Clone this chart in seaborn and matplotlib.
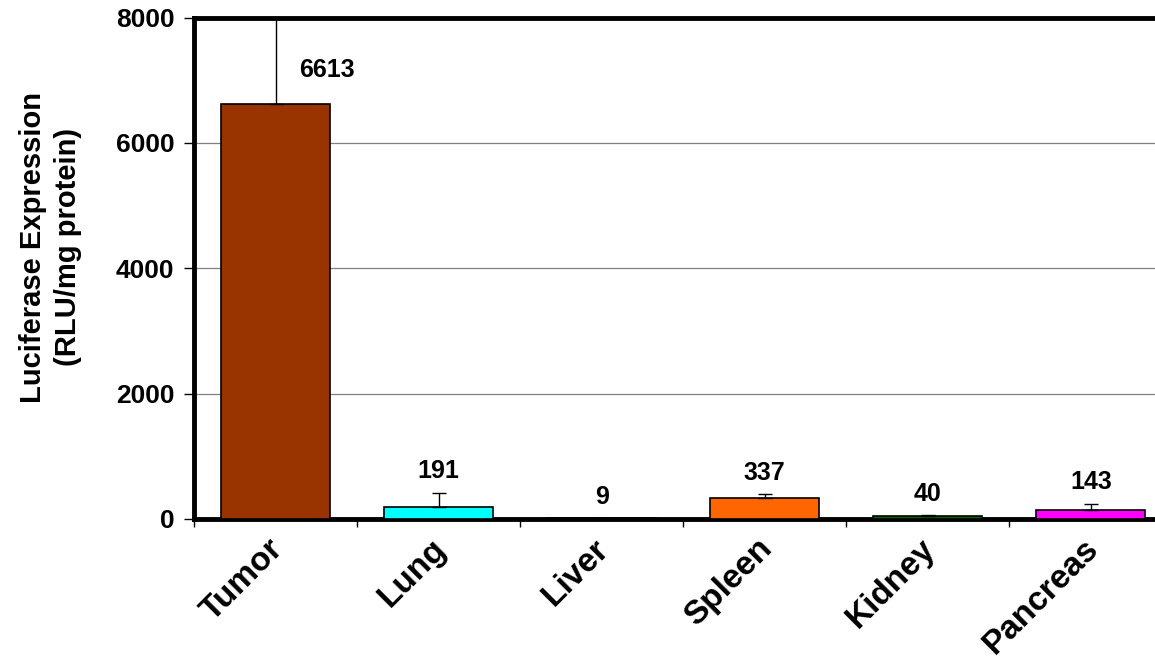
import matplotlib
matplotlib.use("Agg")
import matplotlib.pyplot as plt
import matplotlib.transforms as mtransforms
import seaborn as sns
import pandas as pd

# values
tissues = ["Tumor", "Lung", "Liver", "Spleen", "Kidney", "Pancreas"]
expression = [6613, 191, 9, 337, 40, 143]
error_up = [1500, 224, 0, 55, 20, 95]
bar_colors = ["#993300", "#00FFFF", "#FFFF00", "#FF6600", "#006600", "#FF00FF"]
y_ticks = [0, 2000, 4000, 6000, 8000]

df = pd.DataFrame({"tissue": tissues, "rlu": expression})

sns.set_style("white")
plt.rcParams["font.family"] = ["Liberation Sans", "DejaVu Sans"]
plt.rcParams["font.weight"] = "bold"
plt.rcParams["text.color"] = "black"
plt.rcParams["axes.labelcolor"] = "black"
plt.rcParams["xtick.color"] = "black"
plt.rcParams["ytick.color"] = "black"

fig = plt.figure(figsize=(11.55, 6.63), dpi=100)
ax = fig.add_axes([0.168, 0.2172, 0.847, 0.7564])

sns.barplot(data=df, x="tissue", y="rlu", hue="tissue", palette=bar_colors,
            order=tissues, width=0.67, saturation=1, edgecolor="black",
            linewidth=1.2, legend=False, ax=ax, zorder=3)

# upper-only error bars
ax.errorbar(range(len(tissues)), expression, yerr=[[0] * len(tissues), error_up],
            fmt="none", ecolor="black", elinewidth=1.0, capsize=5, capthick=1.0,
            zorder=4)

# value labels
for i, (v, e) in enumerate(zip(expression, error_up)):
    if i == 0:
        ax.annotate(str(v), (i, v), xytext=(37, 16), textcoords="offset points",
                    ha="center", va="bottom", fontsize=18, fontweight="bold")
    else:
        ax.annotate(str(v), (i, v + e), xytext=(0, 7), textcoords="offset points",
                    ha="center", va="bottom", fontsize=18, fontweight="bold")

ax.set_ylim(0, 8000)
ax.set_xlim(-0.5, len(tissues) - 0.5)
ax.set_yticks(y_ticks)
ax.set_yticklabels([str(t) for t in y_ticks], fontsize=19, fontweight="bold")
ax.set_xticks([x + 0.5 for x in range(-1, len(tissues))])
ax.set_xticklabels([])
ax.set_xticks(range(len(tissues)), minor=True)
ax.set_xticklabels(tissues, minor=True, rotation=45, ha="right", va="top",
                   rotation_mode="anchor", fontsize=24, fontweight="bold")
ax.tick_params(axis="x", which="minor", length=0, pad=8)
ax.tick_params(axis="x", which="major", length=6, width=1, color="black",
               direction="out", bottom=True)
ax.tick_params(axis="y", length=7, width=1, color="black", direction="out",
               left=True, pad=7)

# nudge the rotated labels to sit like the reference
shift = mtransforms.ScaledTranslation(-8 / 100, -3 / 100, fig.dpi_scale_trans)
for lbl in ax.get_xticklabels(minor=True):
    lbl.set_transform(lbl.get_transform() + shift)

for y in y_ticks[1:-1]:
    ax.axhline(y, color="#808080", linewidth=0.9, zorder=0)

for side in ["left", "bottom", "top"]:
    ax.spines[side].set_visible(True)
    ax.spines[side].set_color("black")
    ax.spines[side].set_linewidth(3.5)
ax.spines["right"].set_visible(False)

ax.set_xlabel("")
ax.set_ylabel("Luciferase Expression\n(RLU/mg protein)", fontsize=21,
              fontweight="bold", linespacing=1.3)
ax.yaxis.set_label_coords(-0.1145, 0.542)

fig.savefig("out.png", dpi=100)
